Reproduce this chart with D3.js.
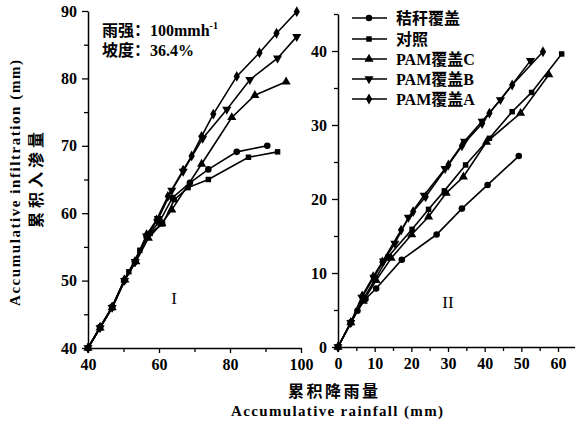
<!DOCTYPE html>
<html><head><meta charset="utf-8">
<script src="https://cdn.jsdelivr.net/npm/d3@7"></script>
<style>body{margin:0;background:#fff}svg{display:block}</style>
</head><body>
<svg id="c" width="575" height="422"></svg>
<script>
// ---- data ----
const seriesNames = ["秸秆覆盖", "对照", "PAM覆盖C", "PAM覆盖B", "PAM覆盖A"];
const seriesSymbols = ["circle", "square", "triUp", "triDown", "diamond"];

// Panel I: rainfall (mm) vs infiltration (mm)
const leftStraw   = [[40,40],[43.4,43.1],[46.8,46.1],[50.2,50.0],[53.2,52.8],[56.5,56.5],[60.2,58.8],[63.8,62.3],[68.7,64.5],[73.9,66.5],[81.9,69.1],[90.5,70.0]];
const leftControl = [[40,40],[43.4,43.0],[46.8,46.0],[51.5,51.3],[54.6,54.5],[57.5,57.0],[61.0,58.4],[64.3,62.0],[68.2,63.8],[73.9,65.0],[85.2,68.3],[93.4,69.1]];
const leftPamC    = [[40,40],[43.4,43.0],[46.8,46.0],[50.4,50.1],[53.5,52.8],[57.0,56.3],[60.8,58.5],[63.6,60.5],[72.0,67.3],[80.5,74.2],[87.0,77.5],[95.8,79.5]];
const leftPamB    = [[40,40],[43.4,43.0],[46.8,46.0],[50.3,50.0],[53.3,52.8],[56.5,56.6],[59.8,59.2],[63.6,63.4],[66.8,66.2],[72.3,71.1],[79.1,75.4],[85.6,79.8],[93.4,83.0],[98.8,86.2]];
const leftPamA    = [[40,40],[43.4,43.1],[46.8,46.1],[50.2,50.1],[53.2,52.8],[56.5,56.8],[59.3,59.0],[62.5,62.5],[66.8,66.4],[69.2,68.5],[72.0,71.4],[75.3,74.7],[81.9,80.3],[88.3,83.8],[93.1,86.7],[98.8,89.9]];

// Panel II
const rightStraw   = [[0,0],[3.5,3.3],[5.3,4.9],[7.5,6.5],[10.4,7.9],[17.4,11.8],[26.9,15.2],[33.8,18.7],[40.8,21.9],[49.3,25.8]];
const rightControl = [[0,0],[3.5,3.3],[6.8,6.4],[10.2,9.2],[13.7,12.2],[20.2,15.9],[24.7,18.6],[29.0,21.1],[34.8,24.6],[41.3,28.2],[47.5,31.8],[52.8,34.4],[61.0,39.6]];
const rightPamC    = [[0,0],[3.5,3.3],[6.9,6.2],[10.4,9.0],[14.5,12.0],[20.1,15.2],[24.7,17.6],[29.5,20.8],[34.2,23.0],[40.5,27.7],[49.8,31.6],[57.5,36.8]];
const rightPamB    = [[0,0],[3.5,3.3],[6.5,6.7],[9.8,9.4],[12.4,11.6],[15.5,14.0],[19.2,17.5],[23.5,20.5],[29.2,24.1],[34.5,27.8],[39.3,30.5],[44.3,33.4],[52.5,38.7]];
const rightPamA    = [[0,0],[3.5,3.3],[6.6,6.9],[9.6,9.5],[12.1,11.5],[17.2,15.8],[20.5,18.3],[23.9,20.3],[30.1,24.6],[33.8,27.2],[39.3,30.2],[41.3,31.6],[47.5,35.4],[55.9,39.9]];

const leftSeries  = [leftStraw, leftControl, leftPamC, leftPamB, leftPamA];
const rightSeries = [rightStraw, rightControl, rightPamC, rightPamB, rightPamA];

const leftXTicks = [40, 60, 80, 100], leftXMinor = [50, 70, 90];
const leftYTicks = [40, 50, 60, 70, 80, 90], leftYMinor = [45, 55, 65, 75, 85];
const rightXTicks = [0, 10, 20, 30, 40, 50, 60], rightXMinor = [5, 15, 25, 35, 45, 55, 65];
const rightYTicks = [0, 10, 20, 30, 40], rightYMinor = [5, 15, 25, 35, 45];

// ---- drawing ----
const svg = d3.select("#c");
const FONT = "'Liberation Serif','Noto Sans CJK SC',serif";

const xL = d3.scaleLinear([40, 100], [88, 301]);
const yL = d3.scaleLinear([40, 90], [348, 11]);
const xR = d3.scaleLinear([0, 65], [338, 338 + 65 * 220 / 60]);
const yR = d3.scaleLinear([0, 45], [347, 347 - 45 * 7.4]);

function styleAxis(g) {
  g.selectAll("path.domain").attr("stroke", "#000").attr("stroke-width", 1.5);
  g.selectAll(".tick line").attr("stroke", "#000").attr("stroke-width", 1.3);
  g.selectAll(".tick text").attr("font-family", FONT).attr("font-weight", "bold")
    .attr("font-size", 16).attr("fill", "#000");
}
function axes(x, y, xt, xm, yt, ym) {
  const y0 = y.range()[0], x0 = x.range()[0];
  let g = svg.append("g").attr("transform", `translate(0,${y0})`)
    .call(d3.axisBottom(x).tickValues(xt).tickSize(5).tickSizeOuter(0).tickPadding(6).tickFormat(d3.format("d")));
  styleAxis(g);
  g = svg.append("g").attr("transform", `translate(0,${y0})`)
    .call(d3.axisBottom(x).tickValues(xm).tickSize(4).tickSizeOuter(0).tickFormat(""));
  styleAxis(g); g.select("path.domain").remove();
  g = svg.append("g").attr("transform", `translate(${x0},0)`)
    .call(d3.axisLeft(y).tickValues(yt).tickSize(6).tickSizeOuter(0).tickPadding(5).tickFormat(d3.format("d")));
  styleAxis(g);
  g = svg.append("g").attr("transform", `translate(${x0},0)`)
    .call(d3.axisLeft(y).tickValues(ym).tickSize(4).tickSizeOuter(0).tickFormat(""));
  styleAxis(g); g.select("path.domain").remove();
}
axes(xL, yL, leftXTicks, leftXMinor, leftYTicks, leftYMinor);
axes(xR, yR, rightXTicks, rightXMinor, rightYTicks, rightYMinor);

function symPath(kind) {
  const map = {circle: [d3.symbolCircle, 34], square: [d3.symbolSquare, 30], triUp: [d3.symbolTriangle, 36],
               triDown: [d3.symbolTriangle, 36], diamond: [d3.symbolDiamond, 34]};
  return d3.symbol(map[kind][0], map[kind][1])();
}
function drawMarker(g, kind, cx, cy) {
  g.append("path").attr("d", symPath(kind))
    .attr("transform", `translate(${cx},${cy})` + (kind === "triDown" ? " rotate(180)" : ""))
    .attr("fill", "#000");
}
function drawSeries(series, x, y) {
  series.forEach((data, i) => {
    const g = svg.append("g");
    g.append("path").datum(data)
      .attr("d", d3.line().x(d => x(d[0])).y(d => y(d[1])))
      .attr("fill", "none").attr("stroke", "#000").attr("stroke-width", 1.6);
    data.forEach(d => drawMarker(g, seriesSymbols[i], x(d[0]), y(d[1])));
  });
}
drawSeries(leftSeries, xL, yL);
drawSeries(rightSeries, xR, yR);

// legend
const legendY = [18, 39, 59, 79, 99];
seriesNames.forEach((name, i) => {
  const g = svg.append("g");
  g.append("line").attr("x1", 352).attr("x2", 387).attr("y1", legendY[i]).attr("y2", legendY[i])
    .attr("stroke", "#000").attr("stroke-width", 1.6);
  drawMarker(g, seriesSymbols[i], 369, legendY[i]);
  g.append("text").attr("x", 396).attr("y", legendY[i] + 6).text(name)
    .attr("font-family", FONT).attr("font-weight", "bold").attr("font-size", 16);
});

// annotations
const ann = svg.append("text").attr("x", 102).attr("y", 36)
  .attr("font-family", FONT).attr("font-weight", "bold").attr("font-size", 16);
ann.append("tspan").text("雨强：100mmh");
ann.append("tspan").attr("dy", -7).attr("font-size", 10).text("-1");
svg.append("text").attr("x", 102).attr("y", 56).text("坡度：36.4%")
  .attr("font-family", FONT).attr("font-weight", "bold").attr("font-size", 16);

svg.append("text").attr("x", 174).attr("y", 304).attr("text-anchor", "middle").text("I")
  .attr("font-family", FONT).attr("font-size", 17);
svg.append("text").attr("x", 448).attr("y", 308).attr("text-anchor", "middle").text("II")
  .attr("font-family", FONT).attr("font-size", 17);

// axis titles
svg.append("text").attr("x", 333).attr("y", 397).attr("text-anchor", "middle").text("累积降雨量")
  .attr("font-family", FONT).attr("font-weight", "bold").attr("font-size", 16)
  .attr("textLength", 90);
svg.append("text").attr("x", 337).attr("y", 416).attr("text-anchor", "middle").text("Accumulative rainfall (mm)")
  .attr("font-family", FONT).attr("font-weight", "bold").attr("font-size", 15)
  .attr("textLength", 212);
svg.append("text").attr("transform", "translate(20,183) rotate(-90)").attr("text-anchor", "middle")
  .text("Accumulative infiltration (mm)")
  .attr("font-family", FONT).attr("font-weight", "bold").attr("font-size", 15).attr("textLength", 246);
svg.append("text").attr("transform", "translate(42,180) rotate(-90)").attr("text-anchor", "middle")
  .text("累积入渗量")
  .attr("font-family", FONT).attr("font-weight", "bold").attr("font-size", 16).attr("textLength", 96);
</script>
</body></html>
